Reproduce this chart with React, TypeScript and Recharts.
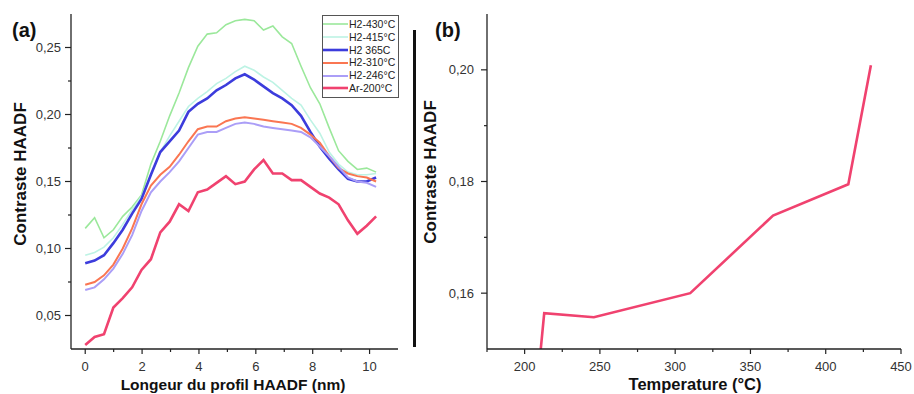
import { Legend, Line, LineChart, XAxis, YAxis } from 'recharts';

const FONT = '"Liberation Sans", Arial, sans-serif';

// profile position (nm)
const profileX = [
  0, 0.33, 0.66, 0.99, 1.32, 1.65, 1.98, 2.31, 2.64, 2.97, 3.3, 3.63, 3.96, 4.29, 4.62, 4.95,
  5.28, 5.61, 5.94, 6.27, 6.6, 6.93, 7.26, 7.59, 7.92, 8.25, 8.58, 8.91, 9.24, 9.57, 9.9, 10.23,
];

const h2_430 = [
  0.115, 0.123, 0.108, 0.114, 0.124, 0.131, 0.14, 0.163, 0.18, 0.199, 0.216, 0.235, 0.251, 0.26, 0.261, 0.267,
  0.27, 0.271, 0.27, 0.263, 0.266, 0.258, 0.253, 0.236, 0.22, 0.208, 0.19, 0.173, 0.165, 0.159, 0.16, 0.157,
];
const h2_415 = [
  0.095, 0.097, 0.101, 0.108, 0.118, 0.129, 0.139, 0.155, 0.172, 0.184, 0.195, 0.206, 0.212, 0.217, 0.223, 0.227,
  0.232, 0.236, 0.233, 0.228, 0.224, 0.218, 0.212, 0.207, 0.196, 0.186, 0.172, 0.163, 0.157, 0.155, 0.155, 0.156,
];
const h2_365 = [
  0.089, 0.091, 0.095, 0.104, 0.114, 0.126, 0.137, 0.155, 0.172, 0.18, 0.188, 0.202, 0.208, 0.212, 0.218, 0.222,
  0.227, 0.23, 0.226, 0.221, 0.216, 0.212, 0.207, 0.199, 0.187, 0.176, 0.167, 0.159, 0.152, 0.15, 0.15, 0.153,
];
const h2_310 = [
  0.073, 0.075, 0.08, 0.088, 0.1, 0.115, 0.133, 0.147, 0.155, 0.161, 0.17, 0.18, 0.189, 0.191, 0.191, 0.195,
  0.197, 0.198, 0.197, 0.196, 0.195, 0.194, 0.193, 0.19, 0.185, 0.179, 0.169, 0.16, 0.156, 0.154, 0.153, 0.15,
];
const h2_246 = [
  0.069, 0.071, 0.077, 0.085, 0.096, 0.11, 0.128, 0.142, 0.15, 0.157, 0.165, 0.175, 0.185, 0.187, 0.187, 0.19,
  0.193, 0.194, 0.193, 0.191, 0.19, 0.189, 0.188, 0.187, 0.183, 0.176, 0.169, 0.161, 0.153, 0.15, 0.149, 0.146,
];
const ar_200 = [
  0.028, 0.034, 0.036, 0.056, 0.063, 0.071, 0.084, 0.092, 0.112, 0.12, 0.133, 0.128, 0.142, 0.144, 0.149, 0.154,
  0.148, 0.15, 0.159, 0.166, 0.156, 0.156, 0.151, 0.151, 0.146, 0.141, 0.138, 0.133, 0.121, 0.111, 0.117, 0.124,
];

// panel (b)
const tempC = [200, 213, 246, 310, 365, 415, 430];
const contrastByTemp = [0.12, 0.1564, 0.1557, 0.16, 0.1739, 0.1795, 0.2008];

const leftXMajor = [0, 2, 4, 6, 8, 10];
const leftXMinor = [1, 3, 5, 7, 9];
const leftYMajor = [0.05, 0.1, 0.15, 0.2, 0.25];
const leftYMinor = [0.075, 0.125, 0.175, 0.225];
const rightXMajor = [200, 250, 300, 350, 400, 450];
const rightXMinor = [175, 225, 275, 325, 375, 425];
const rightYMajor = [0.16, 0.18, 0.2];
const rightYMinor = [0.17, 0.19];

const series = [
  { key: 'h430', name: 'H2-430°C', color: '#9be89b', width: 1.6, values: h2_430 },
  { key: 'h415', name: 'H2-415°C', color: '#bdf3e4', width: 1.6, values: h2_415 },
  { key: 'h365', name: 'H2 365C', color: '#3c3cdc', width: 2.6, values: h2_365 },
  { key: 'h310', name: 'H2-310°C', color: '#fa7652', width: 2, values: h2_310 },
  { key: 'h246', name: 'H2-246°C', color: '#ab9ef7', width: 2, values: h2_246 },
  { key: 'ar200', name: 'Ar-200°C', color: '#f0426f', width: 2.6, values: ar_200 },
];

const profileData = profileX.map((x, i) => {
  const row: Record<string, number> = { x };
  series.forEach((s) => (row[s.key] = s.values[i]));
  return row;
});
const tempData = tempC.map((t, i) => ({ t, c: contrastByTemp[i] }));

const comma = (v: number) => v.toFixed(2).replace('.', ',');
const plain = (v: number) => String(v);

const tickText = { fontSize: 13, fill: '#333', fontFamily: FONT };
const titleText = { fontSize: 16.5, fontWeight: 700, fill: '#111', fontFamily: FONT };

function bottomTick(majors: number[], fmt: (v: number) => string) {
  return (p: any) => {
    const v = p.payload.value;
    const major = majors.includes(v);
    return (
      <g>
        <line x1={p.x} x2={p.x} y1={p.y} y2={p.y + (major ? 5 : 3)} stroke="#222" strokeWidth={1.2} />
        {major && (
          <text x={p.x} y={p.y + 17} dy="0.35em" textAnchor="middle" {...tickText}>
            {fmt(v)}
          </text>
        )}
      </g>
    );
  };
}

function leftTick(majors: number[], fmt: (v: number) => string, gap: number) {
  return (p: any) => {
    const v = p.payload.value;
    const major = majors.includes(v);
    return (
      <g>
        <line x1={p.x - (major ? 6 : 3)} x2={p.x} y1={p.y} y2={p.y} stroke="#222" strokeWidth={1.2} />
        {major && (
          <text x={p.x - gap} y={p.y} dy="0.35em" textAnchor="end" {...tickText}>
            {fmt(v)}
          </text>
        )}
      </g>
    );
  };
}

function LegendBox({ payload }: any) {
  const order = series.map((s) => s.name);
  const items = [...(payload || [])].sort((a: any, b: any) => order.indexOf(a.value) - order.indexOf(b.value));
  return (
    <div
      style={{
        border: '1px solid #555',
        background: '#fff',
        padding: '2px 1px 2px 0',
        fontFamily: FONT,
        fontSize: 10.5,
        color: '#222',
        whiteSpace: 'nowrap',
      }}
    >
      {items.map((e: any) => {
        const s = series.find((d) => d.name === e.value);
        return (
          <div key={e.value} style={{ display: 'flex', alignItems: 'center', height: 12.8, lineHeight: '12.8px' }}>
            <svg width={25} height={6} style={{ marginRight: 1, flex: 'none' }}>
              <line x1={0} x2={25} y1={3} y2={3} stroke={e.color} strokeWidth={s ? s.width : 2} />
            </svg>
            <span>{e.value}</span>
          </div>
        );
      })}
    </div>
  );
}

export default function App() {
  return (
    <div style={{ position: 'absolute', left: 0, top: 0, width: 914, height: 394, background: '#fff' }}>
      <div style={{ position: 'absolute', left: 0, top: 0 }}>
        <LineChart width={420} height={394} data={profileData} margin={{ top: 14, right: 22, bottom: 15, left: 11 }}>
          <XAxis
            dataKey="x"
            type="number"
            domain={[-0.5, 11]}
            allowDataOverflow
            ticks={[...leftXMajor, ...leftXMinor]}
            interval={0}
            tickSize={0}
            tickMargin={0}
            tick={bottomTick(leftXMajor, plain)}
            axisLine={{ stroke: '#222', strokeWidth: 1.3 }}
            height={30}
            label={() => (
              <text x={233} y={390} textAnchor="middle" {...titleText} fontSize={15.5}>
                Longeur du profil HAADF (nm)
              </text>
            )}
          />
          <XAxis xAxisId="top" orientation="top" type="number" domain={[-0.5, 11]} tick={false} tickLine={false} height={0} axisLine={{ stroke: '#555', strokeWidth: 1.3 }} />
          <YAxis
            type="number"
            domain={[0.025, 0.275]}
            allowDataOverflow
            ticks={[...leftYMajor, ...leftYMinor]}
            interval={0}
            tickSize={0}
            tickMargin={0}
            tick={leftTick(leftYMajor, comma, 10)}
            axisLine={{ stroke: '#222', strokeWidth: 1.3 }}
            width={60}
            label={() => (
              <g>
                <text x={12} y={37} {...titleText} fontSize={20}>
                  (a)
                </text>
                <text x={26} y={174} transform="rotate(-90 26 174)" textAnchor="middle" {...titleText} fontSize={17}>
                  Contraste HAADF
                </text>
              </g>
            )}
          />
          <Legend
            layout="vertical"
            align="center"
            verticalAlign="middle"
            content={<LegendBox />}
            wrapperStyle={{ left: 322, top: 15, width: 77 }}
          />
          {series.map((s) => (
            <Line
              key={s.key}
              type="linear"
              dataKey={s.key}
              name={s.name}
              stroke={s.color}
              strokeWidth={s.width}
              dot={false}
              isAnimationActive={false}
            />
          ))}
        </LineChart>
      </div>

      <div style={{ position: 'absolute', left: 413, top: 30, width: 3, height: 317, background: '#111' }} />

      <div style={{ position: 'absolute', left: 420, top: 0 }}>
        <LineChart width={494} height={394} data={tempData} margin={{ top: 14, right: 13, bottom: 15, left: 7 }}>
          <XAxis
            dataKey="t"
            type="number"
            domain={[175, 450]}
            allowDataOverflow
            ticks={[...rightXMajor, ...rightXMinor]}
            interval={0}
            tickSize={0}
            tickMargin={0}
            tick={bottomTick(rightXMajor, plain)}
            axisLine={{ stroke: '#222', strokeWidth: 1.3 }}
            height={30}
            label={() => (
              <text x={275} y={390} textAnchor="middle" {...titleText}>
                Temperature (°C)
              </text>
            )}
          />
          <XAxis xAxisId="top" orientation="top" type="number" domain={[175, 450]} tick={false} tickLine={false} height={0} axisLine={{ stroke: '#555', strokeWidth: 1.3 }} />
          <YAxis
            type="number"
            domain={[0.15, 0.21]}
            allowDataOverflow
            ticks={[...rightYMajor, ...rightYMinor]}
            interval={0}
            tickSize={0}
            tickMargin={0}
            tick={leftTick(rightYMajor, comma, 13)}
            axisLine={{ stroke: '#222', strokeWidth: 1.3 }}
            width={60}
            label={() => (
              <g>
                <text x={15} y={37} {...titleText} fontSize={20}>
                  (b)
                </text>
                <text x={16} y={172} transform="rotate(-90 16 172)" textAnchor="middle" {...titleText} fontSize={17}>
                  Contraste HAADF
                </text>
              </g>
            )}
          />
          <YAxis yAxisId="right" orientation="right" type="number" domain={[0.15, 0.21]} tick={false} tickLine={false} width={0} axisLine={{ stroke: '#555', strokeWidth: 1.3 }} />
          <Line type="linear" dataKey="c" stroke="#f0426f" strokeWidth={2.6} dot={false} isAnimationActive={false} />
        </LineChart>
      </div>
    </div>
  );
}
